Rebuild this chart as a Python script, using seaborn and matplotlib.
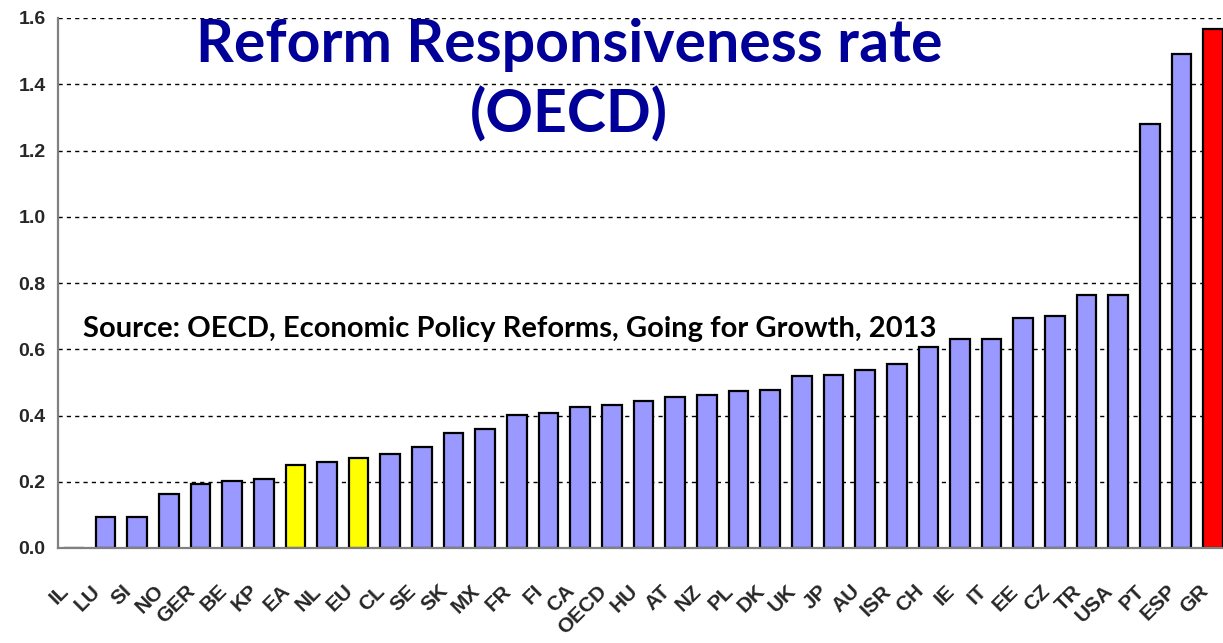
"""Reform responsiveness rate bar chart (OECD, Going for Growth 2013)"""
import matplotlib

matplotlib.use("Agg")
import matplotlib.pyplot as plt
import matplotlib.transforms as mtransforms
import pandas as pd
import seaborn as sns

countries = [
    "IL", "LU", "SI", "NO", "GER", "BE", "KP", "EA", "NL", "EU", "CL", "SE",
    "SK", "MX", "FR", "FI", "CA", "OECD", "HU", "AT", "NZ", "PL", "DK", "UK",
    "JP", "AU", "ISR", "CH", "IE", "IT", "EE", "CZ", "TR", "USA", "PT", "ESP",
    "GR",
]
rates = [
    0.0, 0.093, 0.093, 0.163, 0.192, 0.202, 0.207, 0.250, 0.261, 0.272,
    0.285, 0.306, 0.346, 0.358, 0.403, 0.409, 0.427, 0.432, 0.444, 0.456,
    0.461, 0.473, 0.478, 0.520, 0.521, 0.538, 0.556, 0.607, 0.631, 0.631,
    0.695, 0.701, 0.765, 0.765, 1.281, 1.492, 1.566,
]
highlight_yellow = ["EA", "EU"]
highlight_red = ["GR"]

title_1 = "Reform Responsiveness rate"
title_2 = "(OECD)"
source = "Source: OECD, Economic Policy Reforms, Going for Growth, 2013"

df = pd.DataFrame({"country": countries, "rate": rates})
palette = {}
for c in countries:
    if c in highlight_red:
        palette[c] = "#FF0000"
    elif c in highlight_yellow:
        palette[c] = "#FFFF00"
    else:
        palette[c] = "#9999FF"

sns.set_style("white")
plt.rcParams["font.family"] = ["Liberation Sans", "DejaVu Sans"]

W, H = 1223, 643
f = plt.figure(figsize=(W / 100, H / 100), dpi=100)
ax = f.add_axes([58 / W, 95 / H, (1229 - 58) / W, (548 - 18) / H])

sns.barplot(
    df,
    x="country",
    y="rate",
    hue="country",
    palette=palette,
    saturation=1,
    legend=False,
    width=0.62,
    edgecolor="black",
    linewidth=1.6,
    ax=ax,
)

ax.set_xlim(-0.5, len(countries) - 0.5)
ax.set_ylim(0, 1.6)
ax.set_yticks([0.0, 0.2, 0.4, 0.6, 0.8, 1.0, 1.2, 1.4, 1.6])
ax.set_yticklabels([f"{v:.1f}" for v in ax.get_yticks()], fontsize=14, fontweight="bold")
ax.yaxis.grid(True, color="black", linestyle=(0, (3, 3)), linewidth=1.0)
ax.set_axisbelow(True)
ax.set_xlabel("")
ax.set_ylabel("")

# category labels centred, tick marks on the boundaries
ax.set_xticks(range(len(countries)))
ax.set_xticklabels(countries, rotation=45, ha="right", rotation_mode="anchor",
                   fontsize=15, fontweight="bold")
ax.tick_params(axis="x", which="major", length=0, pad=24)
shift = mtransforms.ScaledTranslation(-15 / 100, 0, f.dpi_scale_trans)
for lab in ax.get_xticklabels():
    lab.set_transform(lab.get_transform() + shift)
ax.set_xticks([i - 0.5 for i in range(len(countries) + 1)], minor=True)
ax.tick_params(axis="x", which="minor", length=6, width=1.2, color="#808080", direction="out")
ax.tick_params(axis="y", length=5, width=1.2, color="#808080", direction="out", pad=4)

for side in ["top", "right"]:
    ax.spines[side].set_visible(False)
for side in ["left", "bottom"]:
    ax.spines[side].set_color("#808080")
    ax.spines[side].set_linewidth(1.6)

title_font = ["Lato", "DejaVu Sans"]
f.text(569 / W, 1 - 62 / H, title_1, ha="center", va="baseline", fontsize=42.5,
       fontweight="bold", color="#000099", family=title_font)
f.text(569 / W, 1 - 133 / H, title_2, ha="center", va="baseline", fontsize=42.5,
       fontweight="bold", color="#000099", family=title_font)
f.text(83 / W, 1 - 337 / H, source, ha="left", va="baseline", fontsize=21,
       fontweight="bold", color="black", family=title_font)

f.savefig("out.png", dpi=100)
